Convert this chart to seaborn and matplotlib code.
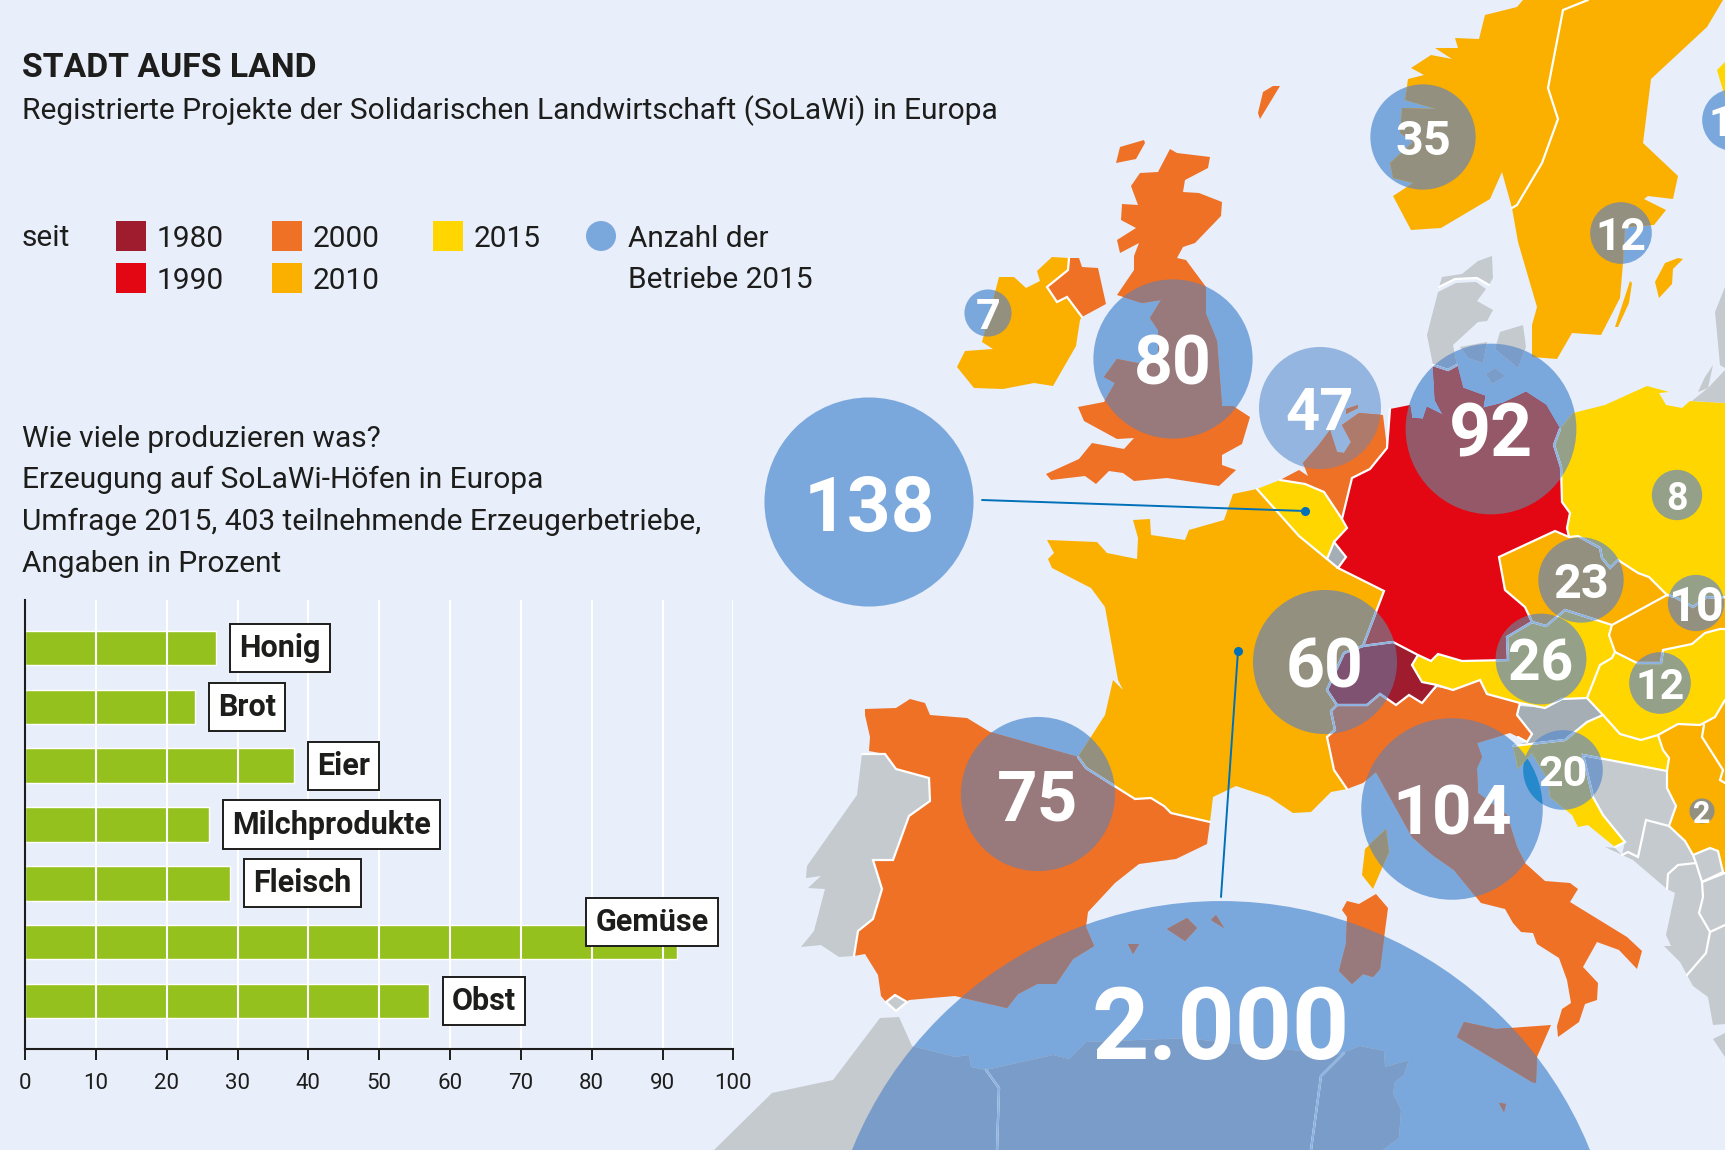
import pandas as pd
import seaborn as sns
import matplotlib.pyplot as plt

BG = "#e8eefa"
DARK = "#1d1d1b"
C1980, C1990, C2000, C2010, C2015 = "#9e1c2e", "#e30613", "#ef7126", "#fbb000", "#ffd600"
GREY = "#c5cace"
BLUE = "#7ba8dc"

# bar chart
products = ["Honig", "Brot", "Eier", "Milchprodukte", "Fleisch", "Gemüse", "Obst"]
percent = [27, 24, 38, 26, 29, 92, 57]
x_ticks = [0, 10, 20, 30, 40, 50, 60, 70, 80, 90, 100]

# legend
legend_years = ["1980", "1990", "2000", "2010", "2015"]

# bubbles (map position, label, circle area; the 60 circle is drawn bigger than its label)
bubble_labels = ["138", "80", "47", "92", "7", "35", "12", "12", "8", "23", "10", "26", "12", "60", "20", "2", "75", "104", "2.000"]
bubble_sizes = [138, 80, 47, 92, 7, 35, 12, 12, 8, 23, 10, 26, 12, 65.5, 20, 2, 75, 104, 2000]
bubble_x = [869, 1173, 1320, 1491, 988, 1423, 1621, 1733, 1677, 1581, 1696, 1541, 1660, 1325, 1563, 1702, 1038, 1452, 1221]
bubble_y = [502, 359, 408, 429, 313, 137, 233, 120, 495, 580, 603, 659, 683, 662, 770, 811, 794, 809, 1299]
bubble_font = [55, 49, 43, 53, 31, 35, 32, 31, 27, 35, 35, 41, 31, 49, 31, 22, 51, 50, 72]

# map outlines
norway = [(1523,0),(1517,7),(1485,15),(1479,39),(1455,38),(1458,48),(1435,48),(1452,59),(1431,55),(1411,68),(1424,75),(1408,79),(1405,100),(1436,109),(1402,108),(1400,133),(1413,142),(1390,163),(1393,178),(1413,183),(1393,196),(1411,230),(1441,228),(1490,199),(1502,172),(1512,208),(1517,205),(1542,163),(1558,119),(1548,88),(1563,10),(1588,0)]
sweden = [(1588,0),(1563,10),(1548,88),(1558,119),(1542,163),(1517,205),(1512,208),(1518,242),(1537,307),(1532,325),(1532,357),(1557,359),(1572,333),(1601,335),(1620,298),(1623,263),(1625,227),(1654,225),(1666,210),(1644,199),(1648,196),(1673,199),(1678,176),(1643,143),(1651,79),(1707,27),(1723,0)]
oeland = [(1615,327),(1618,327),(1629,303),(1632,283),(1630,281)]
gotland = [(1665,263),(1678,258),(1683,259),(1673,269),(1672,284),(1659,298),(1655,282)]
finland = [(1717,70),(1725,62),(1725,97)]
ireland = [(1052,257),(1069,258),(1068,270),(1047,287),(1057,302),(1067,297),(1082,317),(1080,320),(1076,346),(1053,386),(1034,383),(1003,389),(974,388),(957,367),(965,351),(993,349),(982,342),(999,277),(1014,277),(1026,288),(1040,281),(1037,271)]
n_ireland = [(1069,258),(1079,258),(1082,267),(1098,268),(1106,304),(1082,317),(1067,297),(1057,302),(1047,287),(1068,270)]
britain = [(1170,149),(1177,153),(1210,157),(1208,168),(1185,180),(1183,192),(1199,193),(1222,202),(1221,216),(1195,243),(1183,247),(1177,258),(1186,260),(1206,287),(1206,314),(1217,341),(1222,406),(1233,406),(1250,417),(1242,444),(1222,455),(1222,465),(1236,470),(1219,486),(1167,478),(1134,481),(1123,473),(1109,471),(1096,484),(1085,476),(1051,480),(1046,474),(1079,459),(1092,443),(1124,449),(1134,438),(1117,439),(1084,421),(1078,407),(1104,402),(1115,383),(1104,377),(1117,359),(1137,363),(1158,362),(1158,330),(1150,318),(1161,300),(1142,303),(1117,295),(1134,270),(1134,256),(1139,243),(1120,253),(1117,240),(1136,228),(1121,220),(1122,204),(1138,205),(1131,186),(1140,173),(1158,172)]
hebrides = [(1120,147),(1144,140),(1145,143),(1136,159),(1116,163)]
shetland = [(1263,92),(1273,86),(1280,86),(1260,119),(1258,113)]
germany = [(1390,409),(1410,405),(1412,418),(1423,419),(1427,407),(1443,415),(1435,400),(1433,365),(1448,370),(1457,365),(1463,388),(1485,396),(1483,408),(1503,403),(1526,392),(1546,405),(1560,429),(1554,445),(1561,467),(1562,502),(1570,513),(1567,528),(1569,537),(1555,531),(1499,557),(1505,590),(1525,607),(1532,622),(1507,637),(1508,660),(1462,661),(1438,654),(1431,661),(1418,655),(1393,642),(1363,646),(1384,591),(1338,568),(1346,557),(1334,542),(1347,528),(1342,519),(1352,478),(1370,469),(1387,448)]
netherlands = [(1280,480),(1299,470),(1308,476),(1303,463),(1318,446),(1330,430),(1337,452),(1344,453),(1351,442),(1342,425),(1359,413),(1383,415),(1387,448),(1370,469),(1352,478),(1342,519),(1324,492),(1305,484)]
texel = [(1346,409),(1358,405),(1358,408),(1346,414)]
belgium = [(1257,489),(1280,480),(1305,484),(1324,492),(1342,519),(1347,528),(1334,542),(1327,559),(1299,536)]
luxembourg = [(1334,542),(1346,557),(1338,568),(1327,559)]
france = [(1257,489),(1233,494),(1224,520),(1189,530),(1185,540),(1151,535),(1150,519),(1133,520),(1138,538),(1137,559),(1107,553),(1097,542),(1047,540),(1054,553),(1048,559),(1052,568),(1091,588),(1105,607),(1118,680),(1123,690),(1113,680),(1105,715),(1078,757),(1086,768),(1135,799),(1151,798),(1164,806),(1171,813),(1210,822),(1213,797),(1236,786),(1269,797),(1293,813),(1311,812),(1331,792),(1347,789),(1334,770),(1327,737),(1335,730),(1331,711),(1337,705),(1327,690),(1344,653),(1363,646),(1384,591),(1338,568),(1327,559),(1299,536)]
corsica = [(1386,829),(1389,852),(1373,889),(1362,875),(1365,849)]
switzerland = [(1363,646),(1393,642),(1418,655),(1412,665),(1422,682),(1437,685),(1422,703),(1409,695),(1396,705),(1380,694),(1367,705),(1337,705),(1327,690),(1344,653)]
spain = [(865,709),(896,708),(910,699),(925,703),(930,715),(967,718),(990,732),(1078,757),(1086,768),(1135,799),(1151,798),(1164,806),(1171,813),(1210,822),(1207,844),(1176,859),(1139,864),(1115,883),(1088,912),(1086,927),(1094,946),(1073,959),(1056,984),(1037,984),(1018,994),(1007,1008),(955,996),(909,1000),(896,1011),(886,1002),(881,996),(878,975),(865,954),(854,956),(858,931),(873,919),(882,889),(873,860),(893,860),(909,816),(930,801),(929,778),(896,769),(885,754),(869,751),(870,737),(865,715)]
portugal = [(862,754),(885,754),(896,769),(929,778),(930,801),(909,816),(893,860),(873,860),(882,889),(873,919),(858,931),(854,956),(839,957),(821,945),(801,947),(814,931),(825,889),(808,888),(821,876),(806,878),(807,866),(857,795)]
gibraltar = [(895,995),(907,1002),(896,1011),(886,1002)]
mallorca = [(1187,918),(1197,928),(1185,941),(1167,929)]
menorca = [(1216,915),(1224,928),(1211,920)]
ibiza = [(1128,944),(1139,944),(1133,954)]
sardinia = [(1376,894),(1388,908),(1380,969),(1373,977),(1363,974),(1352,984),(1339,971),(1346,944),(1347,917),(1342,910),(1347,901),(1359,904)]
italy = [(1347,789),(1334,770),(1327,737),(1335,730),(1331,711),(1337,705),(1367,705),(1380,694),(1396,705),(1409,695),(1422,703),(1437,687),(1453,690),(1480,680),(1487,694),(1520,703),(1517,715),(1532,734),(1527,742),(1518,737),(1510,733),(1477,743),(1482,757),(1477,768),(1478,793),(1507,815),(1517,847),(1525,863),(1545,881),(1570,883),(1578,889),(1570,902),(1627,937),(1642,951),(1637,969),(1619,950),(1597,942),(1583,967),(1598,983),(1597,1000),(1585,1004),(1579,1022),(1558,1037),(1557,1026),(1562,1009),(1571,1003),(1567,980),(1559,958),(1537,944),(1533,933),(1521,932),(1513,923),(1505,909),(1481,903),(1454,870),(1434,856),(1429,852),(1412,837),(1376,772),(1363,783)]
sicily = [(1464,1022),(1496,1029),(1551,1025),(1537,1057),(1536,1083),(1532,1082),(1457,1037)]
malta = [(1499,1103),(1506,1104),(1504,1112)]
austria = [(1418,655),(1431,661),(1438,654),(1462,661),(1508,660),(1507,637),(1532,622),(1546,626),(1565,610),(1612,625),(1609,635),(1615,652),(1612,658),(1600,665),(1587,698),(1562,699),(1545,708),(1520,703),(1487,694),(1480,680),(1453,690),(1422,682),(1412,665)]
czechia = [(1499,557),(1555,531),(1569,537),(1578,536),(1600,548),(1602,558),(1610,568),(1618,560),(1638,573),(1649,577),(1667,595),(1612,625),(1565,610),(1546,626),(1532,622),(1525,607),(1505,590)]
poland = [(1560,429),(1573,413),(1605,405),(1647,386),(1669,392),(1659,393),(1666,405),(1682,408),(1690,401),(1725,403),(1725,597),(1718,598),(1707,597),(1693,607),(1675,597),(1667,595),(1649,577),(1638,573),(1618,560),(1610,568),(1602,558),(1600,548),(1578,536),(1569,537),(1567,528),(1570,513),(1562,502),(1561,467),(1554,445)]
slovakia = [(1667,595),(1675,597),(1693,607),(1707,597),(1718,598),(1725,597),(1725,629),(1720,629),(1705,633),(1692,644),(1663,650),(1661,663),(1637,663),(1615,652),(1609,635),(1612,625)]
hungary = [(1615,652),(1637,663),(1661,663),(1663,650),(1692,644),(1705,633),(1720,629),(1725,629),(1725,700),(1715,717),(1700,725),(1678,724),(1658,735),(1641,740),(1620,734),(1603,715),(1587,698),(1600,665),(1612,658)]
slovenia = [(1587,698),(1562,699),(1545,708),(1520,706),(1517,715),(1532,733),(1527,742),(1513,746),(1565,740),(1587,722),(1603,715)]
croatia = [(1513,746),(1565,740),(1587,722),(1603,715),(1620,734),(1641,740),(1658,735),(1663,750),(1669,758),(1667,771),(1583,755),(1593,797),(1603,815),(1625,842),(1615,847),(1588,825),(1578,827),(1572,815),(1550,797),(1548,780),(1532,753),(1518,769)]
serbia = [(1658,735),(1678,724),(1700,725),(1715,717),(1725,700),(1725,872),(1723,872),(1718,851),(1710,848),(1693,855),(1685,841),(1669,826),(1676,806),(1667,788),(1667,771),(1669,758),(1663,750)]
bosnia = [(1583,755),(1667,771),(1667,788),(1676,806),(1669,826),(1646,820),(1638,857),(1628,852),(1622,855),(1625,842),(1603,815),(1593,797)]
montenegro = [(1605,847),(1615,848),(1622,855),(1628,852),(1638,857),(1646,820),(1669,826),(1685,841),(1693,855),(1696,863),(1678,865),(1668,874),(1667,889),(1633,860)]
kosovo = [(1693,856),(1710,848),(1718,851),(1723,872),(1702,882),(1696,863)]
albania = [(1668,874),(1678,865),(1696,863),(1702,882),(1703,897),(1699,913),(1710,932),(1706,953),(1687,975),(1680,962),(1664,946),(1671,946),(1666,935),(1675,893),(1667,889)]
bulgaria = [(1702,882),(1725,873),(1725,925),(1710,932),(1699,913),(1703,897)]
greece = [(1710,932),(1725,925),(1725,1024),(1713,1025),(1708,997),(1693,986),(1687,975),(1706,953)]
peloponnese = [(1713,1039),(1725,1033),(1725,1057)]
vendsyssel = [(1492,256),(1478,261),(1462,274),(1442,277),(1439,287),(1455,279),(1477,278),(1489,285),(1493,278)]
jutland = [(1438,292),(1456,283),(1476,282),(1486,289),(1477,301),(1493,310),(1487,321),(1478,322),(1453,345),(1457,365),(1448,370),(1433,365),(1427,335)]
funen = [(1460,347),(1487,342),(1483,363),(1468,358)]
zealand = [(1500,332),(1523,325),(1526,347),(1518,368),(1495,349)]
lolland = [(1495,368),(1505,376),(1492,384),(1486,374)]
baltics = [(1725,287),(1715,312),(1717,333),(1720,365),(1725,368)]
kaliningrad = [(1725,370),(1708,388),(1693,400),(1692,401),(1725,403)]
latvia_spit = [(1713,365),(1705,377),(1698,392),(1708,388)]
north_africa = [(899,1017),(880,1018),(833,1080),(772,1093),(714,1150),(1383,1150),(1399,1138),(1401,1110),(1393,1093),(1395,1082),(1404,1075),(1409,1060),(1385,1067),(1384,1051),(1360,1046),(1337,1055),(1256,1046),(1203,1040),(1190,1038),(1086,1042),(1069,1059),(1053,1055),(986,1070),(971,1067),(969,1055),(955,1057),(912,1046)]

land = [
    (norway, C2010), (sweden, C2010), (oeland, C2010), (gotland, C2010), (finland, C2015),
    (ireland, C2010), (n_ireland, C2000), (britain, C2000), (hebrides, C2000), (shetland, C2000),
    (germany, C1990), (netherlands, C2000), (texel, C2000), (belgium, C2015), (luxembourg, "#a5adb5"),
    (france, C2010), (corsica, C2010), (switzerland, C1980), (spain, C2000), (portugal, GREY),
    (gibraltar, GREY), (mallorca, C2000), (menorca, C2000), (ibiza, C2000), (sardinia, C2000),
    (italy, C2000), (sicily, C2000), (malta, C2000), (austria, C2015), (czechia, C2010),
    (poland, C2015), (slovakia, C2010), (hungary, C2015), (slovenia, "#a5adb5"), (croatia, C2015),
    (serbia, C2010), (bosnia, GREY), (montenegro, GREY), (kosovo, GREY), (albania, GREY),
    (bulgaria, GREY), (greece, GREY), (peloponnese, GREY), (vendsyssel, GREY), (jutland, GREY),
    (funen, GREY), (zealand, GREY), (lolland, GREY), (baltics, GREY), (kaliningrad, GREY),
    (latvia_spit, GREY), (north_africa, GREY),
]

borders = [
    [(1512,208),(1517,205),(1542,163),(1558,119),(1548,88),(1563,10),(1588,0)],
    [(1069,258),(1068,270),(1047,287),(1057,302),(1067,297),(1082,317)],
    [(1439,287),(1455,279),(1477,278),(1489,285)],
    [(1433,365),(1448,370),(1457,365)],
    [(1560,429),(1554,445),(1561,467),(1562,502),(1570,513),(1567,528),(1569,537)],
    [(1569,537),(1578,536),(1600,548),(1602,558),(1610,568),(1618,560),(1638,573),(1649,577),(1667,595)],
    [(1569,537),(1555,531),(1499,557),(1505,590),(1525,607),(1532,622)],
    [(1532,622),(1507,637),(1508,660),(1462,661),(1438,654),(1431,661),(1418,655)],
    [(1418,655),(1393,642),(1363,646),(1384,591),(1338,568),(1346,557),(1334,542),(1327,559),(1338,568)],
    [(1334,542),(1347,528),(1342,519),(1352,478),(1370,469),(1387,448),(1390,409)],
    [(1280,480),(1305,484),(1324,492),(1342,519)],
    [(1257,489),(1299,536),(1327,559)],
    [(1078,757),(1086,768),(1135,799),(1151,798),(1164,806),(1171,813),(1210,822)],
    [(862,754),(885,754),(896,769),(929,778),(930,801),(909,816),(893,860),(873,860),(882,889),(873,919),(858,931),(854,956)],
    [(1347,789),(1334,770),(1327,737),(1335,730),(1331,711),(1337,705)],
    [(1337,705),(1367,705),(1380,694),(1396,705),(1409,695),(1422,703),(1437,685)],
    [(1363,646),(1344,653),(1327,690),(1337,705)],
    [(1418,655),(1412,665),(1422,682),(1437,685),(1453,690),(1480,680),(1487,694),(1520,703)],
    [(1520,703),(1545,708),(1562,699),(1587,698),(1600,665),(1612,658),(1615,652)],
    [(1532,622),(1546,626),(1565,610),(1612,625),(1667,595)],
    [(1612,625),(1609,635),(1615,652),(1637,663),(1661,663),(1663,650),(1692,644),(1705,633),(1720,629),(1725,629)],
    [(1667,595),(1675,597),(1693,607),(1707,597),(1718,598),(1725,597)],
    [(1520,703),(1517,715),(1532,734),(1527,742),(1518,737)],
    [(1513,746),(1565,740),(1587,722),(1603,715),(1587,698)],
    [(1603,715),(1620,734),(1641,740),(1658,735),(1678,724),(1700,725),(1715,717),(1725,700)],
    [(1658,735),(1663,750),(1669,758),(1667,771),(1583,755),(1593,797),(1603,815),(1625,842),(1615,847)],
    [(1667,771),(1667,788),(1676,806),(1669,826)],
    [(1622,855),(1628,852),(1638,857),(1646,820),(1669,826),(1685,841),(1693,855),(1696,863)],
    [(1693,855),(1710,848),(1718,851),(1723,872),(1702,882),(1696,863),(1678,865),(1668,874),(1667,889)],
    [(1702,882),(1703,897),(1699,913),(1710,932),(1706,953),(1687,975)],
    [(1702,882),(1725,873)],
    [(1710,932),(1725,925)],
    [(1704,725),(1702,737),(1723,770),(1720,780),(1725,783)],
    [(895,995),(907,1002),(896,1011),(886,1002),(895,995)],
    [(986,1070),(999,1088),(997,1150)],
    [(1344,1053),(1321,1076),(1311,1150)],
]

# what a land colour turns into underneath a bubble
overlap = {C1980: "#7e5270", C1990: "#945868", C2000: "#98797c", C2010: "#94907f", C2015: "#95a088",
           GREY: "#7a9cc8", "#a5adb5": "#6f96c4"}
overlap_47 = dict(overlap)
overlap_47.update({C2000: "#ad7a6c", C1990: "#a56878", C2015: "#a5a890", GREY: "#8aa8d0"})

sns.set_theme(style="white")
plt.rcParams["font.family"] = ["Roboto", "DejaVu Sans"]

fig = plt.figure(figsize=(17.25, 11.5), dpi=100, facecolor=BG)

# ---- map, in picture pixels ----
ax = fig.add_axes([0, 0, 1, 1])
ax.set_facecolor(BG)

bubbles = pd.DataFrame({"x": bubble_x, "y": bubble_y, "size": bubble_sizes, "label": bubble_labels})
bubbles["tint"] = ["light" if lab == "47" else "normal" for lab in bubble_labels]
sns.scatterplot(data=bubbles, x="x", y="y", size="size", sizes=(164.2 * 2, 164.2 * 2000), size_norm=(2, 2000),
                hue="tint", palette={"normal": BLUE, "light": "#94b5e0"}, linewidth=0, legend=False,
                ax=ax, zorder=1, clip_on=True)
ax.set_xlim(0, 1725)
ax.set_ylim(1150, 0)
ax.axis("off")

circles = [plt.Circle((x, y), 8.9 * s ** 0.5, transform=ax.transData)
           for x, y, s in zip(bubble_x, bubble_y, bubble_sizes)]

# darker patch where the 104 and 20 circles cross over the sea
lens = plt.Circle((bubble_x[14], bubble_y[14]), 8.9 * bubble_sizes[14] ** 0.5, color="#2589cc", lw=0, zorder=1.5)
ax.add_patch(lens)
lens.set_clip_path(circles[17])

for outline, colour in land:
    xs, ys = zip(*outline)
    ax.fill(xs, ys, color=colour, lw=0, zorder=2)

for xy in borders:
    xs, ys = zip(*xy)
    ax.plot(xs, ys, color="white", lw=1.6, zorder=4, solid_joinstyle="miter")

for lab, circle in zip(bubble_labels, circles):
    tones = overlap_47 if lab == "47" else overlap
    for outline, colour in land:
        xs, ys = zip(*outline)
        for p in ax.fill(xs, ys, color=tones[colour], lw=0, zorder=3):
            p.set_clip_path(circle)
    for xy in borders:
        xs, ys = zip(*xy)
        for ln in ax.plot(xs, ys, color="#8fb3e0", lw=1.6, zorder=5, solid_joinstyle="miter"):
            ln.set_clip_path(circle)

# leader lines
ax.plot([982, 1305], [500, 511], color="#0070b8", lw=1.4, zorder=6)
ax.plot([1221, 1238], [897, 651], color="#0070b8", lw=1.4, zorder=6)
ax.plot([1305, 1238], [511, 651], ls="none", marker="o", ms=5.5, color="#0070b8", zorder=6)

for x, y, lab, fs in zip(bubble_x, bubble_y, bubble_labels, bubble_font):
    # the 2.000 circle centre lies below the picture, its number sits in the visible part
    label_y = 1021 if lab == "2.000" else y
    ax.text(x, label_y, lab, color="white", fontsize=fs, fontweight="bold", ha="center", va="center_baseline", zorder=7)

# ---- texts and legend ----
TXT = 21.5
ax.text(22, 77, "STADT AUFS LAND", fontsize=24.3, fontweight="bold", color=DARK, va="baseline", zorder=8)
ax.text(22, 119, "Registrierte Projekte der Solidarischen Landwirtschaft (SoLaWi) in Europa", fontsize=TXT, color=DARK, va="baseline", zorder=8)
ax.text(22, 246, "seit", fontsize=TXT, color=DARK, va="baseline", zorder=8)

swatches = [C1980, C1990, C2000, C2010, C2015]
swatch_x = [116, 116, 272, 272, 433]
swatch_y = [221, 263, 221, 263, 221]
for year, colour, sx, sy in zip(legend_years, swatches, swatch_x, swatch_y):
    ax.add_patch(plt.Rectangle((sx, sy), 30, 30, color=colour, lw=0, zorder=8))
    ax.text(sx + 41, sy + 26, year, fontsize=TXT, color=DARK, va="baseline", zorder=8)
ax.add_patch(plt.Circle((601, 236), 15, color=BLUE, lw=0, zorder=8))
ax.text(628, 247, "Anzahl der", fontsize=TXT, color=DARK, va="baseline", zorder=8)
ax.text(628, 288, "Betriebe 2015", fontsize=TXT, color=DARK, va="baseline", zorder=8)

intro = ["Wie viele produzieren was?", "Erzeugung auf SoLaWi-Höfen in Europa",
         "Umfrage 2015, 403 teilnehmende Erzeugerbetriebe,", "Angaben in Prozent"]
for i, line in enumerate(intro):
    ax.text(22, 447 + i * 41.5, line, fontsize=TXT, color=DARK, va="baseline", zorder=8)

# ---- bar chart ----
bar_ax = fig.add_axes([25 / 1725, 1 - 1049 / 1150, 708.4 / 1725, 449 / 1150])
bar_ax.patch.set_alpha(0)
df = pd.DataFrame({"product": products, "percent": percent})
sns.barplot(data=df, x="percent", y="product", orient="h", color="#95c11f", saturation=1, width=0.587, ax=bar_ax)
bar_ax.set_xlim(0, 100)
bar_ax.set_ylim(6.82, -0.82)
bar_ax.set_xlabel("")
bar_ax.set_ylabel("")
bar_ax.set_yticks([])
bar_ax.set_xticks(x_ticks)
bar_ax.tick_params(axis="x", length=8, width=1.4, color=DARK, labelsize=16, labelcolor=DARK, pad=9, bottom=True)
bar_ax.set_axisbelow(False)
bar_ax.grid(axis="x", color="white", lw=1.5)
bar_ax.grid(axis="y", visible=False)
for side in ["top", "right"]:
    bar_ax.spines[side].set_visible(False)
for side in ["left", "bottom"]:
    bar_ax.spines[side].set_color(DARK)
    bar_ax.spines[side].set_linewidth(1.5)
    bar_ax.spines[side].set_zorder(5)

for i, (name, val) in enumerate(zip(products, percent)):
    x, y = val + 3.25, i
    if name == "Gemüse":
        x, y = 80.5, i - 0.34
    bar_ax.text(x, y, name, fontsize=22, fontweight="bold", color=DARK, ha="left", va="center", zorder=6,
                bbox=dict(boxstyle="square,pad=0.3", fc="white", ec=DARK, lw=1.4))

fig.savefig("out.png", dpi=100, facecolor=BG)
